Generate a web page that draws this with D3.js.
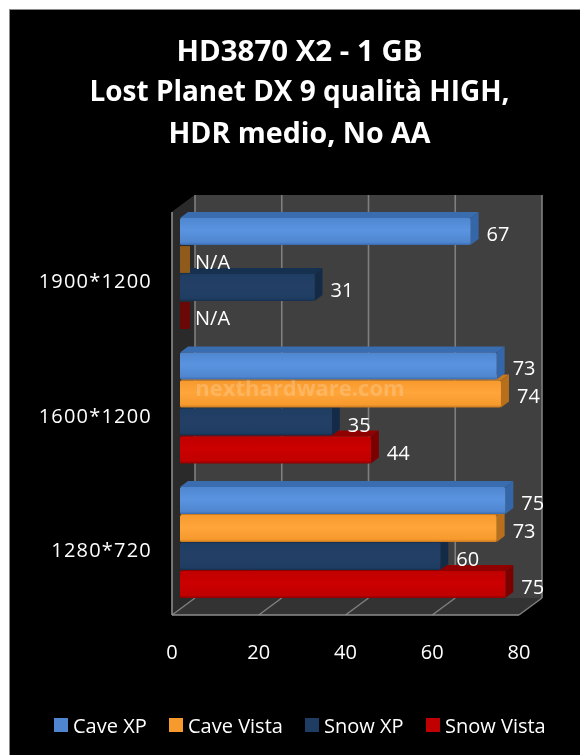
<!DOCTYPE html>
<html><head><meta charset="utf-8">
<script src="https://cdn.jsdelivr.net/npm/d3@7/dist/d3.min.js"></script>
<style>html,body{margin:0;padding:0;background:#fff}svg{display:block}text{font-family:"Open Sans","Noto Sans",sans-serif}#art{filter:blur(0.55px)}</style>
</head><body><svg id="c" width="580" height="755"></svg>
<script>
const titleLines=["HD3870 X2 - 1 GB","Lost Planet DX 9 qualità HIGH,","HDR medio, No AA"];
const categories=["1900*1200","1600*1200","1280*720"];
const seriesNames=["Cave XP","Cave Vista","Snow XP","Snow Vista"];
const caveXP=[67,73,75];
const caveVista=[null,74,73];
const snowXP=[31,35,60];
const snowVista=[null,44,75];
const ticks=[0,20,40,60,80];
const colorsFront=["#4f86cf","#f79a2e","#1f3d63","#c00000"];
const colorsLight=["#5a94e0","#ffa53a","#243f66","#cc0000"];
const colorsTop=["#3a6cb0","#c9791f","#16304f","#8f0000"];
const colorsSide=["#3566a8","#b86f1c","#142b47","#7d0000"];
const colorsNA=["#3566a8","#8f5a1a","#142b47","#6a0808"];
const seriesValues=[caveXP,caveVista,snowXP,snowVista];
const svg=d3.select("#c");
svg.append("rect").attr("x",9).attr("y",9).attr("width",571).attr("height",746).attr("fill","#8a8a8a");
const art=svg.append("g").attr("id","art");
art.append("rect").attr("x",10).attr("y",10).attr("width",570).attr("height",745).attr("fill","#000");
const defs=svg.append("defs");
seriesNames.forEach((s,i)=>{
 const g=defs.append("linearGradient").attr("id","g"+i).attr("x1",0).attr("x2",0).attr("y1",0).attr("y2",1);
 [[0,colorsFront[i]],[0.45,colorsLight[i]],[0.9,colorsFront[i]],[1,colorsTop[i]]].forEach(([o,c])=>g.append("stop").attr("offset",o).attr("stop-color",c));
});
titleLines.forEach((t,i)=>art.append("text").text(t).attr("x",299.5).attr("y",[61,101,143][i]).attr("text-anchor","middle").attr("fill","#fff").attr("font-size",28).attr("font-weight",700).attr("textLength",[246,420,262][i]).attr("lengthAdjust","spacingAndGlyphs"));
const fx0=172,floorY=615,dx=23,dy=17,topY=212,span=347;
const xFront=d3.scaleLinear().domain([0,80]).range([fx0,fx0+span]);
const xBar=d3.scaleLinear().domain([0,80]).range([fx0+8,fx0+8+span]);
const yCat=d3.scaleBand().domain(categories).range([218,598]).paddingInner(0.175);
const ySer=d3.scaleBand().domain(seriesNames).range([0,yCat.bandwidth()]).paddingInner(0.04);
const pl=a=>a.map(p=>p.join(",")).join(" ");
art.append("polygon").attr("points",pl([[fx0,topY],[fx0+dx,topY-dy],[fx0+dx+span,topY-dy],[fx0+dx+span,floorY-dy],[fx0+dx,floorY-dy]])).attr("fill","#404040");
art.append("polygon").attr("points",pl([[fx0,topY],[fx0+dx,topY-dy],[fx0+dx,floorY-dy],[fx0,floorY]])).attr("fill","#2a2a2a");
art.append("polygon").attr("points",pl([[fx0,floorY],[fx0+dx,floorY-dy],[fx0+dx+span,floorY-dy],[fx0+span,floorY]])).attr("fill","#333");
ticks.forEach(t=>{
 const x=xFront(t);
 art.append("line").attr("x1",x+dx).attr("x2",x+dx).attr("y1",topY-dy).attr("y2",floorY-dy).attr("stroke","#7f7f7f").attr("stroke-width",1.6);
 art.append("line").attr("x1",x).attr("x2",x+dx).attr("y1",floorY).attr("y2",floorY-dy).attr("stroke","#7f7f7f").attr("stroke-width",1.5);
 art.append("text").text(t).attr("x",x).attr("y",659).attr("text-anchor","middle").attr("fill","#fff").attr("font-size",20);
});
art.append("line").attr("x1",fx0).attr("x2",fx0).attr("y1",topY).attr("y2",floorY).attr("stroke","#8c8c8c").attr("stroke-width",1.6);
art.append("line").attr("x1",fx0).attr("x2",fx0+span).attr("y1",floorY).attr("y2",floorY).attr("stroke","#8c8c8c").attr("stroke-width",1.6);
const labels=art.append("g");
categories.forEach((c,ci)=>{
 labels.append("text").text(c).attr("x",152).attr("y",yCat(c)+yCat.bandwidth()/2+14.5).attr("text-anchor","end").attr("fill","#fff").attr("font-size",20).attr("letter-spacing",1.2);
 seriesNames.slice().reverse().forEach(s=>{
  const si=seriesNames.indexOf(s),v=seriesValues[si][ci];
  const y=yCat(c)+ySer(s),h=ySer.bandwidth(),x0=xBar(0),d=8,e=6;
  const x1=v==null?x0:xBar(v);
  if(v==null){
   art.append("rect").attr("x",x0).attr("y",y).attr("width",10).attr("height",h).attr("fill",colorsNA[si]);
  }else{
   art.append("polygon").attr("points",pl([[x0,y],[x0+d,y-e],[x1+d,y-e],[x1,y]])).attr("fill",colorsTop[si]);
   art.append("polygon").attr("points",pl([[x1,y],[x1+d,y-e],[x1+d,y+h-e],[x1,y+h]])).attr("fill",colorsSide[si]);
   art.append("rect").attr("x",x0).attr("y",y).attr("width",x1-x0).attr("height",h).attr("rx",1.5).attr("fill","url(#g"+si+")");
  }
  labels.append("text").text(v==null?"N/A":v).attr("x",v==null?x0+15:x1+16).attr("y",y+h/2+9.5).attr("fill","#fff").attr("font-size",20);
 });
});
labels.raise();
art.append("text").text("nexthardware.com").attr("x",300).attr("y",396).attr("text-anchor","middle").attr("fill","#fff").attr("fill-opacity",0.2).attr("font-size",22).attr("font-weight",700);
const lx=[54,169,305,426];
seriesNames.forEach((s,i)=>{
 art.append("rect").attr("x",lx[i]).attr("y",718).attr("width",14).attr("height",14).attr("fill",colorsFront[i]);
 art.append("text").text(s).attr("x",lx[i]+19).attr("y",733).attr("fill","#fff").attr("font-size",20);
});
</script></body></html>
